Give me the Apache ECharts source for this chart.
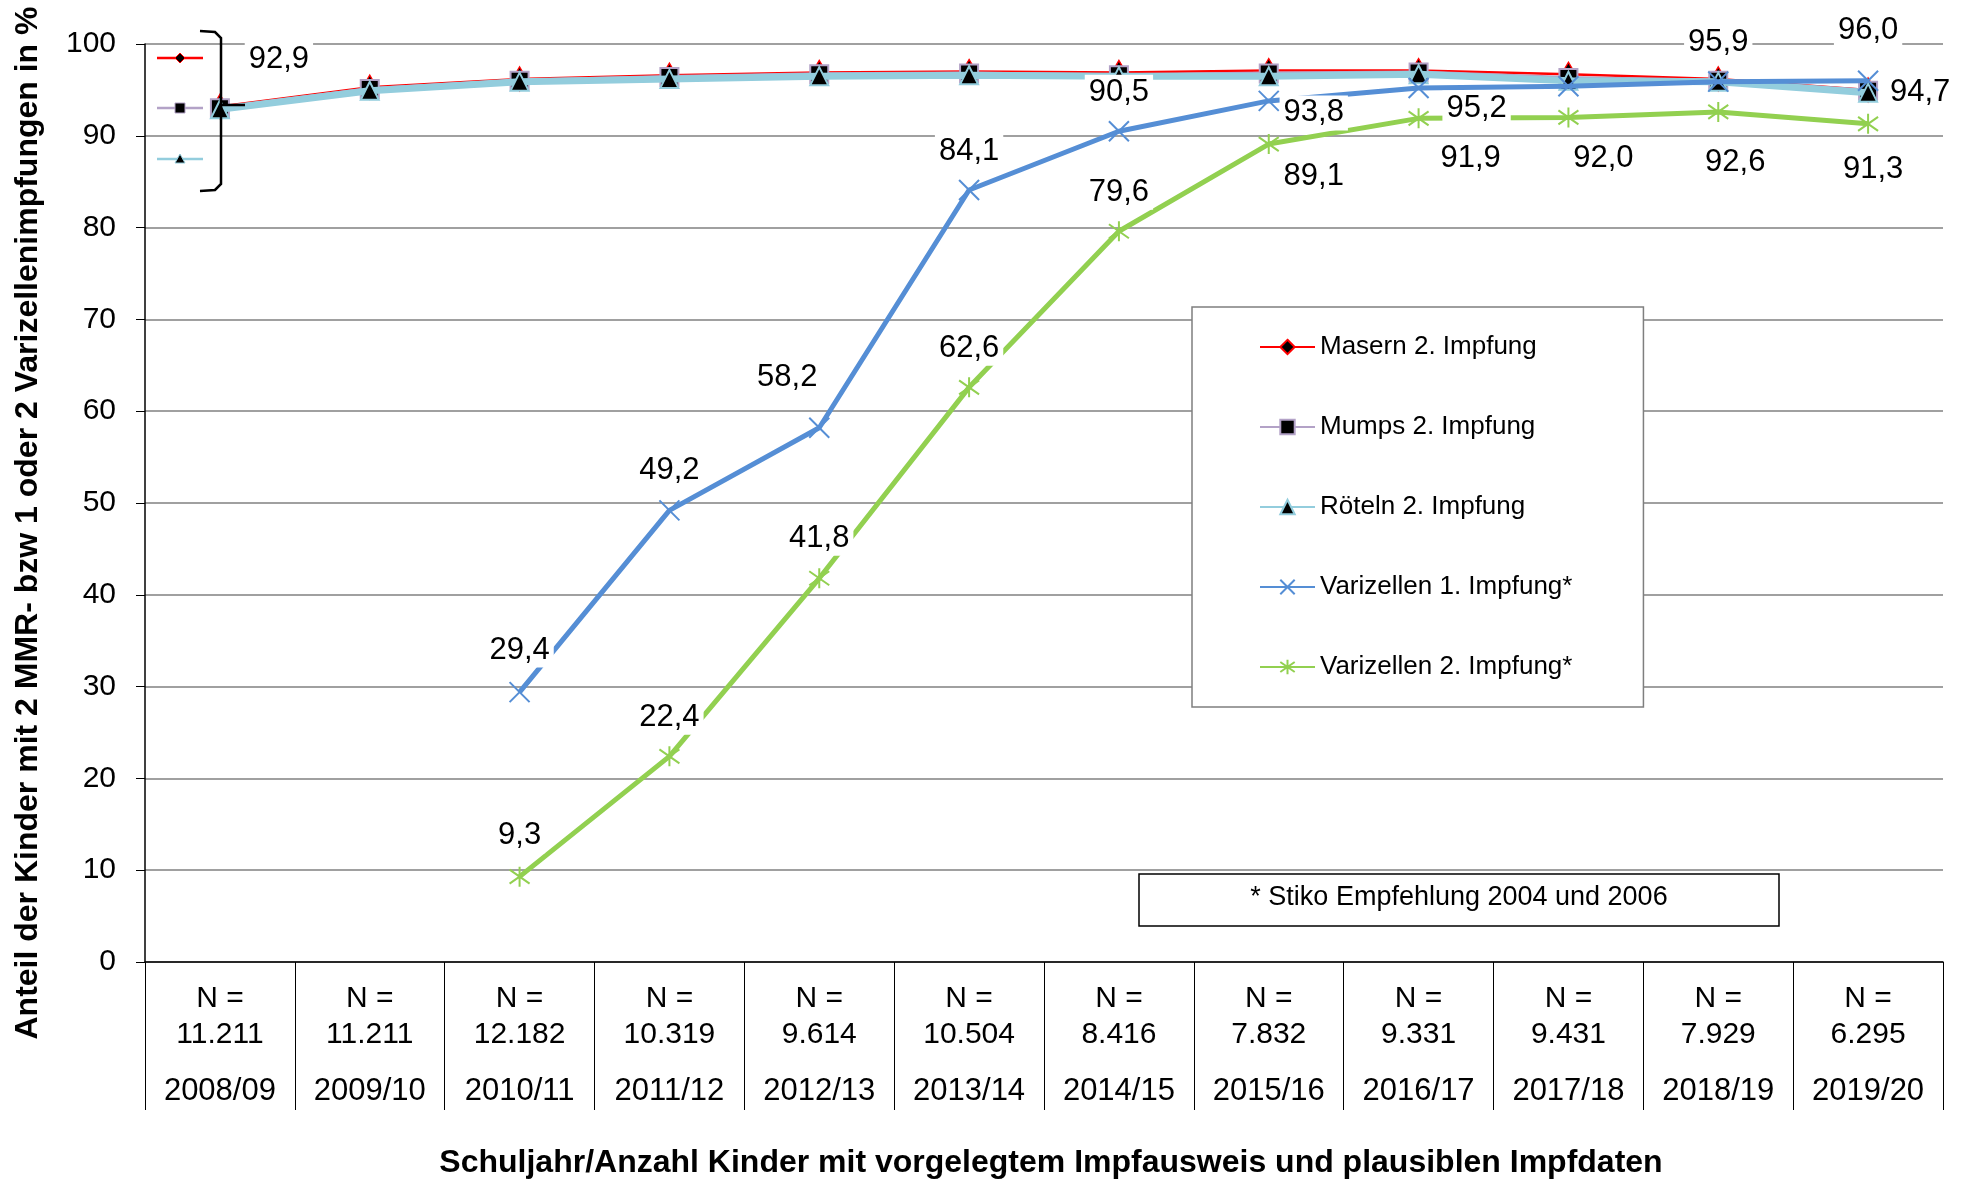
<!DOCTYPE html>
<html><head><meta charset="utf-8">
<script src="https://cdn.jsdelivr.net/npm/echarts@6/dist/echarts.min.js"></script>
<style>html,body{margin:0;padding:0;background:#fff}#c{width:1971px;height:1182px}</style>
</head><body><div id="c"></div>
<script>
// ---- data ----
const years = ['2008/09','2009/10','2010/11','2011/12','2012/13','2013/14','2014/15','2015/16','2016/17','2017/18','2018/19','2019/20'];
const nCounts = ['11.211','11.211','12.182','10.319','9.614','10.504','8.416','7.832','9.331','9.431','7.929','6.295'];
const masern = [93.2, 95.3, 96.2, 96.6, 96.9, 97.0, 96.9, 97.1, 97.1, 96.7, 96.2, 95.0];
const mumps  = [93.0, 95.1, 96.0, 96.4, 96.7, 96.8, 96.6, 96.8, 96.9, 96.3, 96.0, 94.9];
const roeteln = [92.9, 94.9, 95.9, 96.2, 96.5, 96.6, 96.5, 96.5, 96.7, 96.0, 95.9, 94.7];
const vari1 = [null, null, 29.4, 49.2, 58.2, 84.1, 90.5, 93.8, 95.2, 95.4, 95.9, 96.0];
const vari2 = [null, null, 9.3, 22.4, 41.8, 62.6, 79.6, 89.1, 91.9, 92.0, 92.6, 91.3];
const yTicks = [0, 10, 20, 30, 40, 50, 60, 70, 80, 90, 100];

// ---- label placement (style only): index -> [dx, dy] ----
const lblRoeteln = {0: [59, -50], 11: [52, 0]};
const lblVari1 = {2: [0, -42], 3: [0, -40], 4: [-32, -50], 5: [0, -39], 6: [0, -39], 7: [45, 12], 8: [58, 20], 10: [0, -39], 11: [0, -50]};
const lblVari2 = {2: [0, -41], 3: [0, -39], 4: [0, -40], 5: [0, -39], 6: [0, -39], 7: [45, 32], 8: [52, 40], 9: [35, 41], 10: [17, 51], 11: [5, 46]};

const fmt = v => v.toFixed(1).replace('.', ',');
function build(values, place) {
  return values.map((v, i) => {
    if (v === null) return '-';
    const p = place && place[i];
    if (!p) return v;
    return {value: v, label: {show: true, offset: p}};
  });
}
const FONT = '"Liberation Sans", Arial, sans-serif';
const baseLabel = {
  show: false, position: 'inside', fontFamily: FONT, fontSize: 31, color: '#000',
  backgroundColor: '#fff', padding: [2, 4], formatter: p => fmt(p.value)
};
const crossPath = 'path://M0,0L10,10M10,0L0,10';
const starPath = 'path://M5,0L5,10M0,1.5L10,8.5M10,1.5L0,8.5';

const chart = echarts.init(document.getElementById('c'), null, {renderer: 'canvas'});
chart.setOption({
  animation: false,
  backgroundColor: '#fff',
  textStyle: {fontFamily: FONT},
  grid: {left: 145, right: 28, top: 44, bottom: 220, containLabel: false},
  legend: {
    orient: 'vertical', left: 1192, top: 307,
    padding: [27, 71, 27, 67], itemGap: 54, itemWidth: 55, itemHeight: 18,
    backgroundColor: '#fff', borderColor: '#7f7f7f', borderWidth: 1.5,
    textStyle: {fontFamily: FONT, fontSize: 26, color: '#000', lineHeight: 26},
    data: ['Masern 2. Impfung', 'Mumps 2. Impfung', 'Röteln 2. Impfung', 'Varizellen 1. Impfung*', 'Varizellen 2. Impfung*']
  },
  xAxis: {
    type: 'category', data: years, boundaryGap: true,
    axisLine: {show: true, lineStyle: {color: '#000', width: 1.5}},
    axisTick: {show: true, length: 148, lineStyle: {color: '#000', width: 1}},
    axisLabel: {
      margin: 19, interval: 0,
      formatter: (val, idx) => '{a|N =}\n{a|' + nCounts[idx] + '}\n{b|' + val + '}',
      rich: {
        a: {fontFamily: FONT, fontSize: 30, lineHeight: 36, color: '#000'},
        b: {fontFamily: FONT, fontSize: 31, lineHeight: 76, color: '#000'}
      }
    },
    splitLine: {show: false}
  },
  yAxis: {
    type: 'value', min: yTicks[0], max: yTicks[yTicks.length - 1], interval: 10,
    axisLine: {show: true, lineStyle: {color: '#000', width: 1.5}},
    axisTick: {show: true, length: 9, lineStyle: {color: '#000', width: 1}},
    axisLabel: {margin: 29, fontFamily: FONT, fontSize: 30, color: '#000'},
    splitLine: {show: true, lineStyle: {color: '#808080', width: 1.5}}
  },
  series: [
    {
      name: 'Masern 2. Impfung', type: 'line', data: build(masern, null),
      symbol: 'diamond', symbolSize: [14, 24],
      lineStyle: {color: '#ff0000', width: 2.5},
      itemStyle: {color: '#000', borderColor: '#ff0000', borderWidth: 1.5},
      label: baseLabel, z: 2
    },
    {
      name: 'Mumps 2. Impfung', type: 'line', data: build(mumps, null),
      symbol: 'rect', symbolSize: 18,
      lineStyle: {color: '#b3a2c7', width: 4},
      itemStyle: {color: '#000', borderColor: '#b3a2c7', borderWidth: 2},
      label: baseLabel, z: 3
    },
    {
      name: 'Röteln 2. Impfung', type: 'line', data: build(roeteln, lblRoeteln),
      symbol: 'triangle', symbolSize: 18,
      lineStyle: {color: '#93cddd', width: 7},
      itemStyle: {color: '#000', borderColor: '#93cddd', borderWidth: 2},
      label: baseLabel, z: 4
    },
    {
      name: 'Varizellen 1. Impfung*', type: 'line', data: build(vari1, lblVari1),
      symbol: crossPath, symbolSize: 20,
      lineStyle: {color: '#558ed5', width: 5},
      itemStyle: {color: 'rgba(0,0,0,0)', borderColor: '#558ed5', borderWidth: 2},
      label: baseLabel, z: 5
    },
    {
      name: 'Varizellen 2. Impfung*', type: 'line', data: build(vari2, lblVari2),
      symbol: starPath, symbolSize: 20,
      lineStyle: {color: '#92d050', width: 5},
      itemStyle: {color: 'rgba(0,0,0,0)', borderColor: '#92d050', borderWidth: 2},
      label: baseLabel, z: 5
    }
  ],
  graphic: [
    {type: 'text', x: 28, y: 523, rotation: Math.PI / 2,
     style: {text: 'Anteil der Kinder mit 2 MMR- bzw 1 oder 2 Varizellenimpfungen in %', font: 'bold 32px ' + FONT, fill: '#000', align: 'center', verticalAlign: 'middle'}},
    {type: 'text', x: 1051, y: 1163,
     style: {text: 'Schuljahr/Anzahl Kinder mit vorgelegtem Impfausweis und plausiblen Impfdaten', font: 'bold 32px ' + FONT, fill: '#000', align: 'center', verticalAlign: 'middle'}},
    {type: 'rect', shape: {x: 1139, y: 874, width: 640, height: 52}, style: {fill: '#fff', stroke: '#000', lineWidth: 1.5}, z: 100},
    {type: 'text', x: 1459, y: 898, z: 101,
     style: {text: '* Stiko Empfehlung 2004 und 2006', font: '27px ' + FONT, fill: '#000', align: 'center', verticalAlign: 'middle'}},
    // bracket
    {type: 'polyline', z: 100, shape: {points: [[200, 31], [215, 32], [221, 38], [221, 184], [215, 190], [200, 191]]},
     style: {fill: 'none', stroke: '#000', lineWidth: 2.5}},
    {type: 'line', z: 100, shape: {x1: 221, y1: 105, x2: 245, y2: 105}, style: {stroke: '#000', lineWidth: 2.5}},
    // mini legend
    {type: 'line', z: 100, shape: {x1: 157, y1: 58, x2: 203, y2: 58}, style: {stroke: '#ff0000', lineWidth: 2.5}},
    {type: 'polygon', z: 101, shape: {points: [[180, 53], [185, 58], [180, 63], [175, 58]]}, style: {fill: '#000', stroke: '#ff0000', lineWidth: 1}},
    {type: 'line', z: 100, shape: {x1: 157, y1: 108, x2: 203, y2: 108}, style: {stroke: '#b3a2c7', lineWidth: 2.5}},
    {type: 'rect', z: 101, shape: {x: 175, y: 103, width: 10, height: 10}, style: {fill: '#000', stroke: '#b3a2c7', lineWidth: 1}},
    {type: 'line', z: 100, shape: {x1: 157, y1: 159, x2: 203, y2: 159}, style: {stroke: '#93cddd', lineWidth: 2.5}},
    {type: 'polygon', z: 101, shape: {points: [[180, 154], [185, 163], [175, 163]]}, style: {fill: '#000', stroke: '#93cddd', lineWidth: 1}}
  ]
});
</script>
</body></html>
